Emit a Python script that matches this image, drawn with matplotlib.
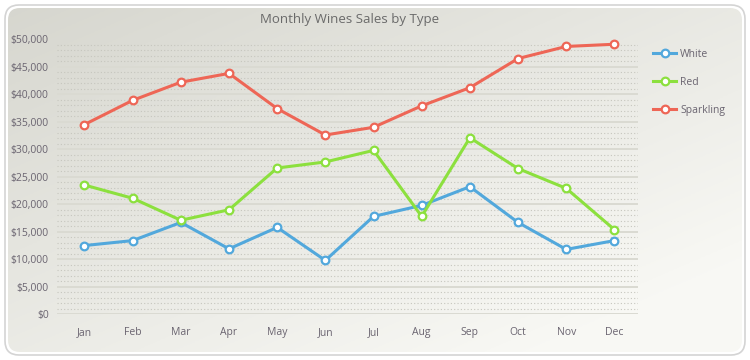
import numpy as np
import matplotlib.pyplot as plt
from matplotlib.patches import FancyBboxPatch

months = ['Jan', 'Feb', 'Mar', 'Apr', 'May', 'Jun', 'Jul', 'Aug', 'Sep', 'Oct', 'Nov', 'Dec']
white = [12500, 13400, 16700, 11900, 15800, 9800, 17800, 19800, 23200, 16700, 11800, 13400]
red = [23500, 21100, 17100, 19000, 26600, 27700, 29800, 17800, 32100, 26500, 22900, 15400]
sparkling = [34500, 38900, 42200, 43800, 37400, 32600, 34000, 37900, 41200, 46500, 48700, 49100]
series_names = ['White', 'Red', 'Sparkling']
series_colors = ['#52a8dc', '#8ce03e', '#ee6656']
y_ticks = list(range(0, 50001, 5000))

plt.rcParams['font.family'] = ['Open Sans', 'DejaVu Sans']
txt = '#6a6470'

fig = plt.figure(figsize=(7.5, 3.6), dpi=100)

# background panel with diagonal gradient
bg = fig.add_axes([0, 0, 1, 1], zorder=-5)
bg.set_xlim(0, 750)
bg.set_ylim(360, 0)
bg.axis('off')
gx, gy = np.meshgrid(np.linspace(0, 1, 300), np.linspace(0, 1, 150))
g = np.clip(0.55 * gx + 0.6 * gy, 0, 1)
c0 = np.array([0.84, 0.84, 0.81])
c1 = np.array([0.975, 0.975, 0.96])
img = c0 + (c1 - c0) * g[..., None]
panel = FancyBboxPatch((5, 5), 740, 350, boxstyle='round,pad=0,rounding_size=14',
                       fc='none', ec='#d4d4d4', lw=1.2, zorder=3)
bg.add_patch(panel)
im = bg.imshow(img, extent=(5, 745, 355, 5), aspect='auto', zorder=1)
clip = FancyBboxPatch((8, 8), 734, 344, boxstyle='round,pad=0,rounding_size=12',
                      fc='none', ec='none', transform=bg.transData)
bg.add_patch(clip)
im.set_clip_path(clip)

ax = fig.add_axes([57 / 750, 1 - 314.3 / 360, (638 - 57) / 750, (314.3 - 39.3) / 360])
ax.set_facecolor('none')
x = np.arange(len(months))

# grid: dotted minor every 1000, solid major every 5000
for v in range(1000, 50000, 1000):
    if v % 5000:
        ax.axhline(v, color='#c6c6be', lw=0.8, ls=(0, (1, 2)), zorder=1)
for v in y_ticks[:-1]:
    ax.axhline(v, color='#dadad2', lw=1.4, zorder=1)

for vals, name, col in zip([white, red, sparkling], series_names, series_colors):
    ax.plot(x, vals, color=col, lw=2.2, marker='o', ms=5.5, mfc='white', mec=col,
            mew=1.6, label=name, zorder=3)

ax.set_xlim(-0.57, 11.49)
ax.set_ylim(0, 50000)
ax.set_xticks(x)
ax.set_xticklabels(months)
ax.set_yticks(y_ticks)
ax.set_yticklabels(['${:,}'.format(v) for v in y_ticks])
ax.tick_params(length=0, labelsize=7.5, colors=txt)
ax.tick_params(axis='x', pad=9)
ax.tick_params(axis='y', pad=6)
for s in ax.spines.values():
    s.set_visible(False)

fig.text(350 / 750, 1 - 19 / 360, 'Monthly Wines Sales by Type', ha='center', va='center',
         fontsize=9.5, color='#6a6a6a')

leg = ax.legend(loc='upper left', bbox_to_anchor=(1.01, 1.0), frameon=False, fontsize=7.5,
                handlelength=2.2, labelspacing=1.65, handletextpad=0.4)
for t in leg.get_texts():
    t.set_color(txt)

fig.savefig('out.png', dpi=100)
